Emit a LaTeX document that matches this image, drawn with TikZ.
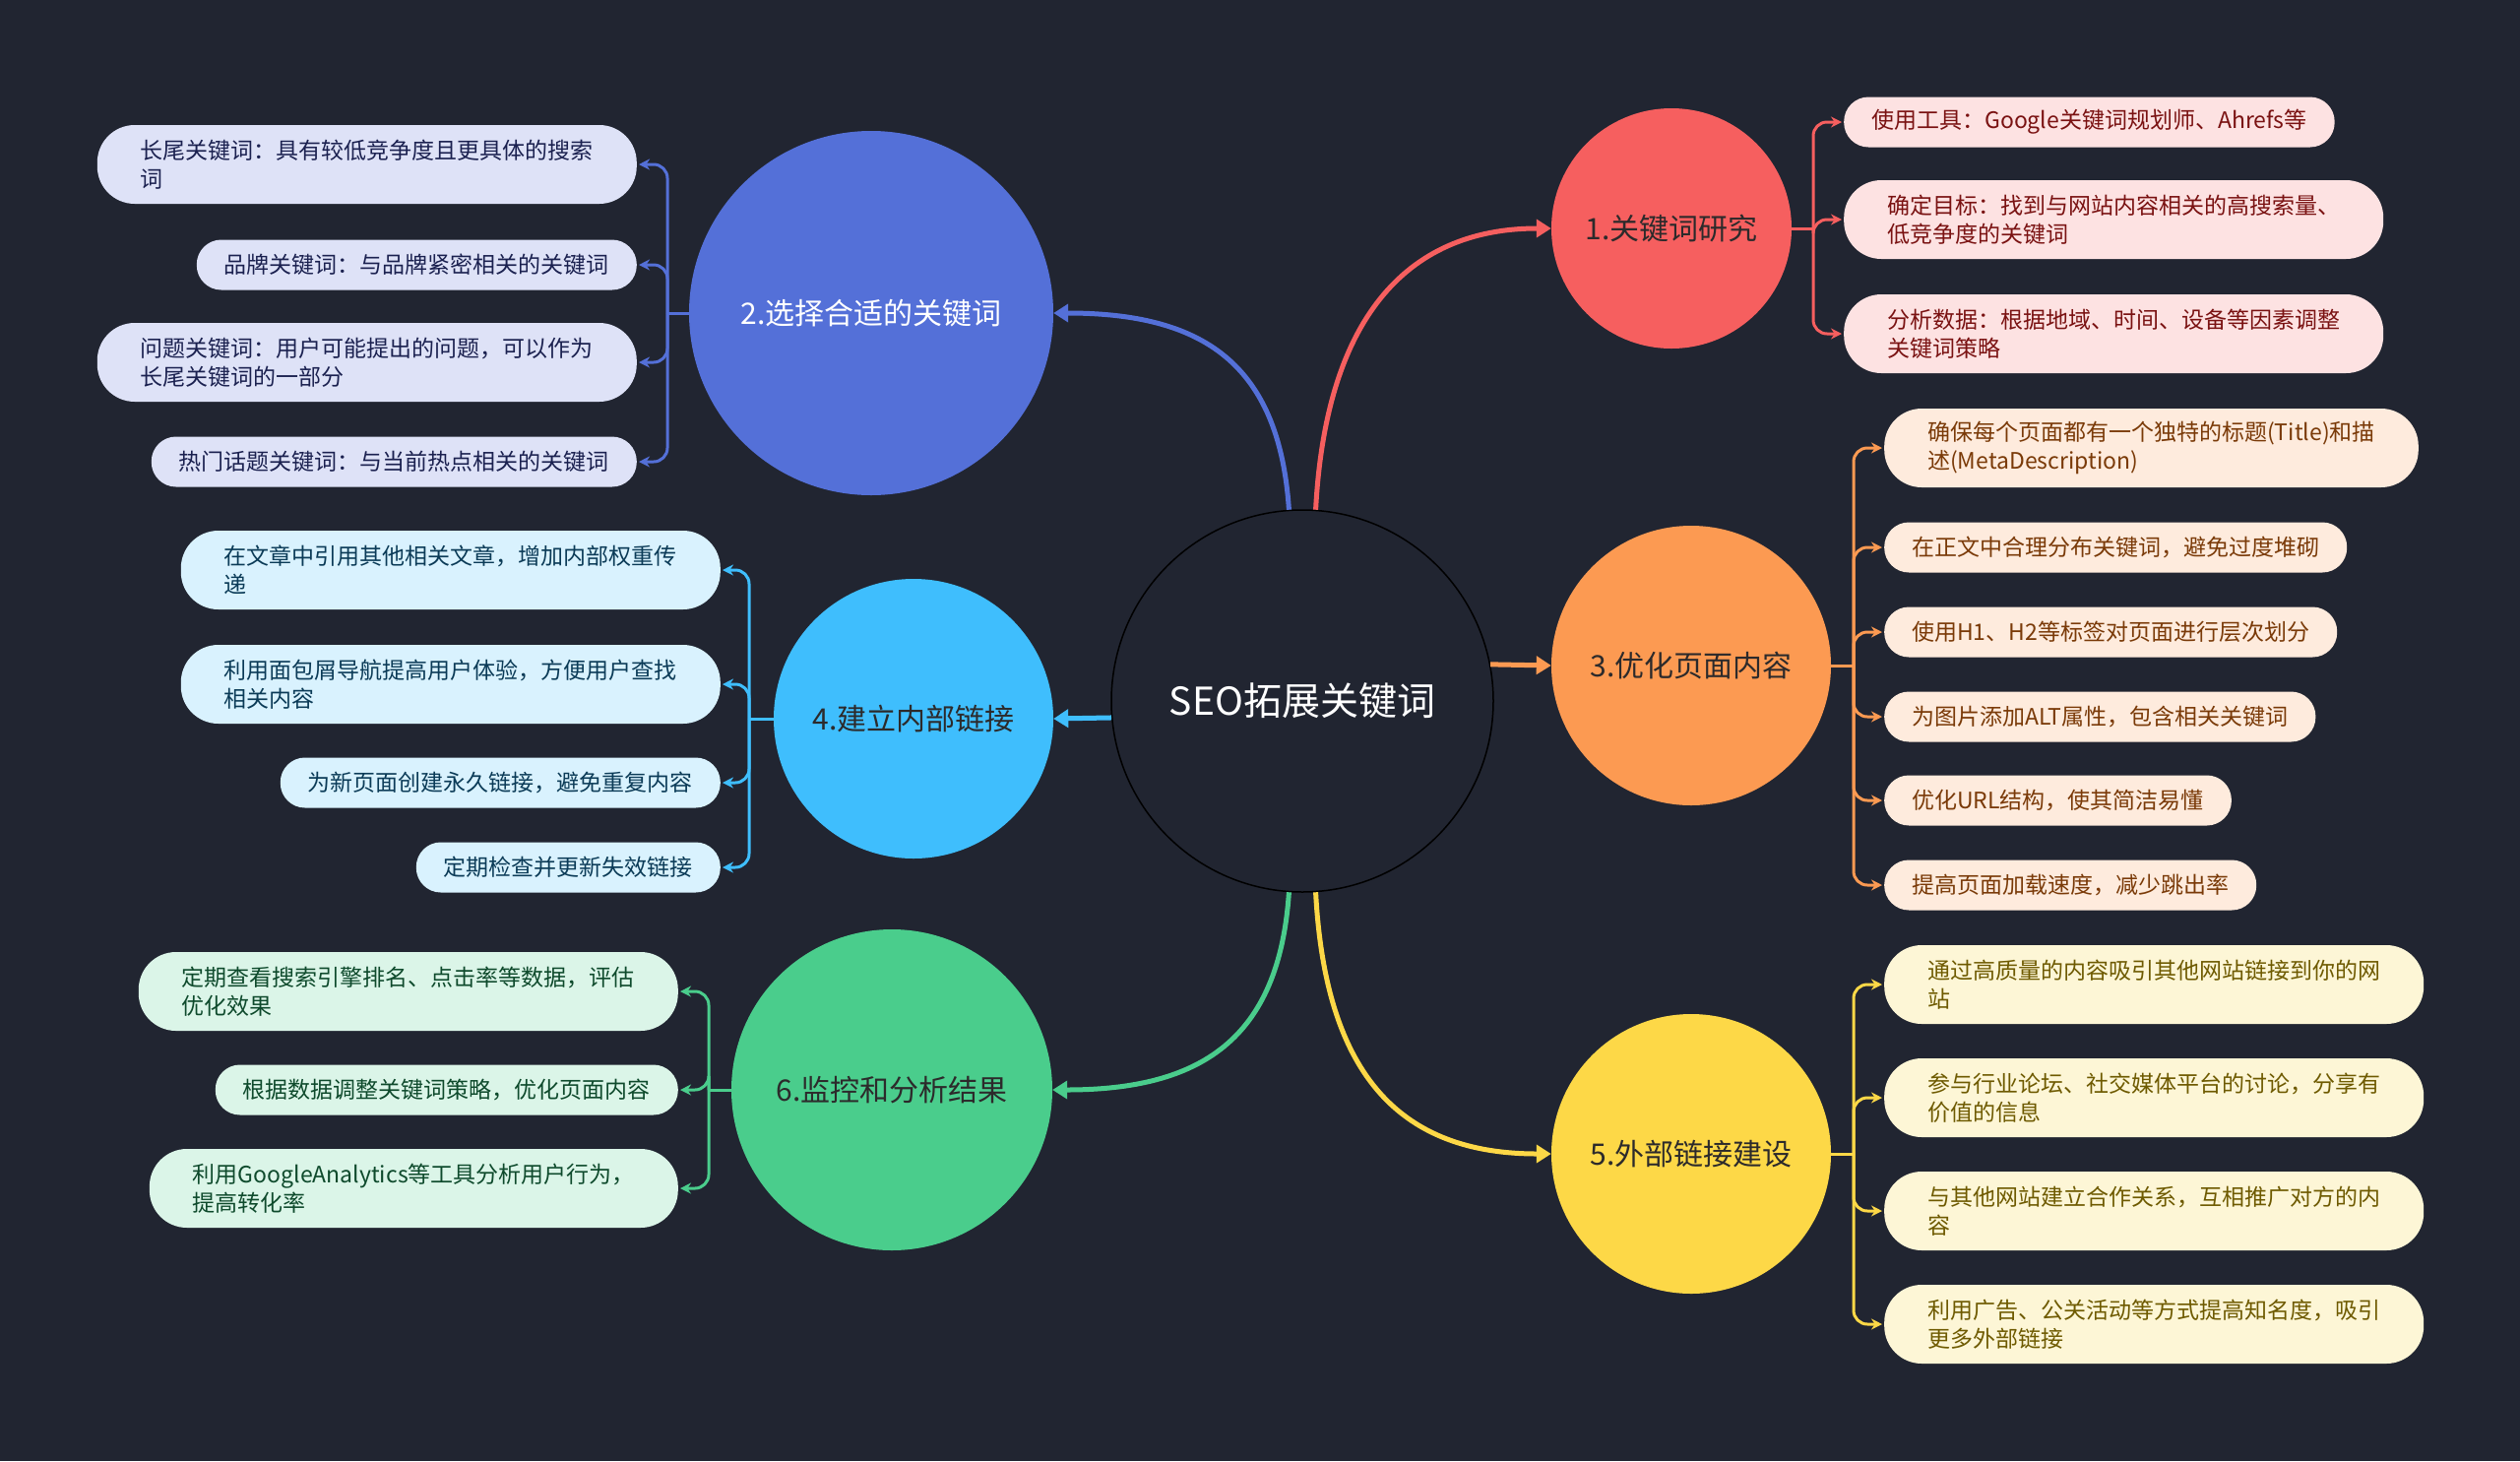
\documentclass[tikz,border=0pt]{standalone}
\usepackage{fontspec}
\setmainfont{Noto Sans CJK SC}
\usepackage{tikz}
\usetikzlibrary{arrows.meta,positioning}

\definecolor{bg}{HTML}{212531}
\definecolor{dk}{HTML}{2C2A2B}
\definecolor{c1}{HTML}{F65F5F}\definecolor{f1}{HTML}{FDE2E2}\definecolor{d1}{HTML}{7A1212}
\definecolor{c2}{HTML}{5470D8}\definecolor{f2}{HTML}{DEE2F7}\definecolor{d2}{HTML}{1B2150}
\definecolor{c3}{HTML}{FC9A52}\definecolor{f3}{HTML}{FEEBDD}\definecolor{d3}{HTML}{7A3A08}
\definecolor{c4}{HTML}{3FBEFD}\definecolor{f4}{HTML}{D9F2FE}\definecolor{d4}{HTML}{0B3B57}
\definecolor{c5}{HTML}{FDD847}\definecolor{f5}{HTML}{FDF6D6}\definecolor{d5}{HTML}{6E5A00}
\definecolor{c6}{HTML}{4ACD8C}\definecolor{f6}{HTML}{DBF5E8}\definecolor{d6}{HTML}{0E4A2C}

\tikzset{
  topic/.style={circle, inner sep=0pt, text=dk, font=\fontsize{30}{36}\selectfont},
  leaf/.style={rounded corners={12+13*#1}, inner xsep={12+16*#1}, inner ysep=0pt,
    minimum height={22+29*#1}, align=left, font=\fontsize{23}{29}\selectfont},
  mainline/.style={line width=5pt, -{Triangle[length=15pt,width=18pt]}},
  stub/.style={line width=3pt},
  branch/.style={line width=3pt, rounded corners=14pt, -{Stealth[length=11pt,width=11pt]}, shorten >=2pt},
}

\begin{document}
\begin{tikzpicture}[x=1pt,y=-1pt]
  \fill[bg] (0,0) rectangle (2560,1484);
  \useasboundingbox (0,0) rectangle (2560,1484);

  % centre and main topics
  \node[circle, draw=black, line width=1.5pt, minimum size=388pt, text=white,
    font=\fontsize{39}{46}\selectfont] (c) at (1323,712) {SEO拓展关键词};
  \node[topic, fill=c1, minimum size=244pt] (t1) at (1698,232) {1.关键词研究};
  \node[topic, fill=c2, minimum size=370pt, text=white] (t2) at (885,318) {2.选择合适的关键词};
  \node[topic, fill=c3, minimum size=284pt] (t3) at (1718,676) {3.优化页面内容};
  \node[topic, fill=c4, minimum size=284pt] (t4) at (928,730) {4.建立内部链接};
  \node[topic, fill=c5, minimum size=284pt] (t5) at (1718,1172) {5.外部链接建设};
  \node[topic, fill=c6, minimum size=326pt] (t6) at (906,1107) {6.监控和分析结果};

  \draw[mainline, c1] (c.86) .. controls +(10,-190) and +(-150,0) .. (t1.west);
  \draw[mainline, c2] (c.94) .. controls +(-10,-150) and +(150,0) .. (t2.east);
  \draw[mainline, c3] (c.11) -- (t3.west);
  \draw[mainline, c4] (c.185) -- (t4.east);
  \draw[mainline, c5] (c.274) .. controls +(10,190) and +(-150,0) .. (t5.west);
  \draw[mainline, c6] (c.266) .. controls +(-10,150) and +(150,0) .. (t6.east);

  % junctions
  \coordinate (j1) at (1842,232);
  \coordinate (j2) at (678,318);
  \coordinate (j3) at (1883,676);
  \coordinate (j4) at (761,730);
  \coordinate (j5) at (1883,1172);
  \coordinate (j6) at (720,1107);
  \draw[stub, c1] (t1.east) -- (j1);
  \draw[stub, c2] (t2.west) -- (j2);
  \draw[stub, c3] (t3.east) -- (j3);
  \draw[stub, c4] (t4.west) -- (j4);
  \draw[stub, c5] (t5.east) -- (j5);
  \draw[stub, c6] (t6.west) -- (j6);

  % 1
  \foreach \i/\y/\n/\txt in {
    1/124/1/{使用工具：Google关键词规划师、Ahrefs等},
    2/223/2/{确定目标：找到与网站内容相关的高搜索量、\\低竞争度的关键词},
    3/339/2/{分析数据：根据地域、时间、设备等因素调整\\关键词策略}}{
    \node[leaf=\n, fill=f1, text=d1, anchor=west] (l1\i) at (1873,\y) {\txt};
    \draw[branch, c1] (j1) |- (l1\i.west);
  }
  % 2
  \foreach \i/\y/\n/\txt in {
    1/167/2/{长尾关键词：具有较低竞争度且更具体的搜索\\词},
    2/269/1/{品牌关键词：与品牌紧密相关的关键词},
    3/368/2/{问题关键词：用户可能提出的问题，可以作为\\长尾关键词的一部分},
    4/469/1/{热门话题关键词：与当前热点相关的关键词}}{
    \node[leaf=\n, fill=f2, text=d2, anchor=east] (l2\i) at (647,\y) {\txt};
    \draw[branch, c2] (j2) |- (l2\i.east);
  }
  % 3
  \foreach \i/\y/\n/\txt in {
    1/455/2/{确保每个页面都有一个独特的标题(Title)和描\\述(MetaDescription)},
    2/556/1/{在正文中合理分布关键词，避免过度堆砌},
    3/642/1/{使用H1、H2等标签对页面进行层次划分},
    4/728/1/{为图片添加ALT属性，包含相关关键词},
    5/813/1/{优化URL结构，使其简洁易懂},
    6/899/1/{提高页面加载速度，减少跳出率}}{
    \node[leaf=\n, fill=f3, text=d3, anchor=west] (l3\i) at (1914,\y) {\txt};
    \draw[branch, c3] (j3) |- (l3\i.west);
  }
  % 4
  \foreach \i/\y/\n/\txt in {
    1/579/2/{在文章中引用其他相关文章，增加内部权重传\\递},
    2/695/2/{利用面包屑导航提高用户体验，方便用户查找\\相关内容},
    3/795/1/{为新页面创建永久链接，避免重复内容},
    4/881/1/{定期检查并更新失效链接}}{
    \node[leaf=\n, fill=f4, text=d4, anchor=east] (l4\i) at (732,\y) {\txt};
    \draw[branch, c4] (j4) |- (l4\i.east);
  }
  % 5
  \foreach \i/\y/\n/\txt in {
    1/1000/2/{通过高质量的内容吸引其他网站链接到你的网\\站},
    2/1115/2/{参与行业论坛、社交媒体平台的讨论，分享有\\价值的信息},
    3/1230/2/{与其他网站建立合作关系，互相推广对方的内\\容},
    4/1345/2/{利用广告、公关活动等方式提高知名度，吸引\\更多外部链接}}{
    \node[leaf=\n, fill=f5, text=d5, anchor=west] (l5\i) at (1914,\y) {\txt};
    \draw[branch, c5] (j5) |- (l5\i.west);
  }
  % 6
  \foreach \i/\y/\n/\txt in {
    1/1007/2/{定期查看搜索引擎排名、点击率等数据，评估\\优化效果},
    2/1107/1/{根据数据调整关键词策略，优化页面内容},
    3/1207/2/{利用GoogleAnalytics等工具分析用户行为，\\提高转化率}}{
    \node[leaf=\n, fill=f6, text=d6, anchor=east] (l6\i) at (689,\y) {\txt};
    \draw[branch, c6] (j6) |- (l6\i.east);
  }
\end{tikzpicture}
\end{document}
